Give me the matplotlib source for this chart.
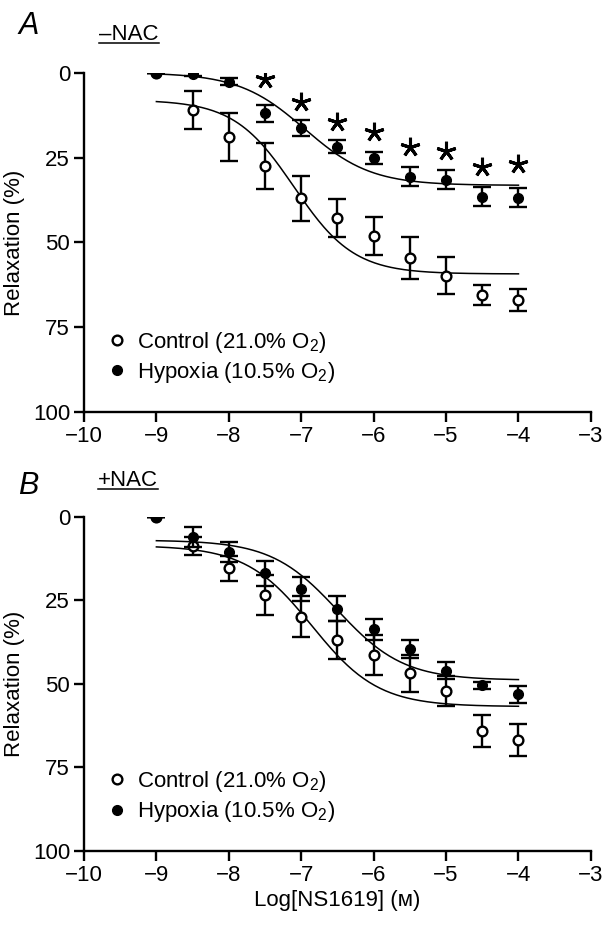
import numpy as np
import matplotlib
matplotlib.use("Agg")
import matplotlib.pyplot as plt
from matplotlib.lines import Line2D

plt.rcParams['font.family'] = ['Liberation Sans', 'DejaVu Sans']
plt.rcParams['mathtext.fontset'] = 'custom'
plt.rcParams['mathtext.rm'] = 'Liberation Sans'
plt.rcParams['mathtext.it'] = 'Liberation Sans:italic'

# log concentration of NS1619 (M)
log_conc = [-9, -8.5, -8, -7.5, -7, -6.5, -6, -5.5, -5, -4.5, -4]

# panel A (-NAC): relaxation (%) mean and SEM
ctrl_a = [0, 11, 19, 27.5, 37, 42.7, 48, 54.7, 59.8, 65.5, 67]
ctrl_a_err = [0, 5.5, 7, 6.7, 6.7, 5.6, 5.6, 6.2, 5.5, 3, 3.3]
hyp_a = [0, 0.3, 2.6, 12, 16.3, 21.8, 25.2, 30.6, 31.6, 36.5, 36.8]
hyp_a_err = [0, 0.8, 1, 2.5, 2.5, 2, 1.8, 2.8, 2.8, 2.8, 2.8]
star_x = [-7.5, -7, -6.5, -6, -5.5, -5, -4.5, -4]
star_y = [1.8, 8.5, 14.4, 17.6, 22, 23.2, 27.8, 27]

# panel B (+NAC)
ctrl_b = [0, 8.8, 15.4, 23.3, 29.9, 36.9, 41.4, 46.9, 52.2, 64.1, 66.8]
ctrl_b_err = [0, 2.8, 3.7, 6, 6.2, 5.7, 6, 5.5, 4.5, 4.8, 4.8]
hyp_b = [0, 6, 10.5, 16.9, 21.6, 27.5, 33.7, 39.5, 46.1, 50.4, 53.1]
hyp_b_err = [0, 3, 3, 3.7, 3.6, 3.8, 3.2, 2.7, 2.5, 1, 2.5]

# sigmoid fit parameters: bottom, top, logEC50, hill
fit_ctrl_a = (8.0, 59.3, -7.1, 1.05)
fit_hyp_a = (0.0, 33.2, -6.95, 0.95)
fit_ctrl_b = (8.6, 56.8, -6.85, 0.95)
fit_hyp_b = (7.0, 48.9, -6.5, 0.95)


def sigmoid(x, p):
    bottom, top, ec50, hill = p
    return bottom + (top - bottom) / (1 + 10 ** ((ec50 - x) * hill))


fig = plt.figure(figsize=(6.02, 9.26), dpi=100)
ax_a = fig.add_axes([0.1395, 0.555, 0.842, 0.3665])
ax_b = fig.add_axes([0.1395, 0.081, 0.842, 0.361])

xfit = np.linspace(-9, -4, 200)
panels = [
    (ax_a, ctrl_a, ctrl_a_err, hyp_a, hyp_a_err, fit_ctrl_a, fit_hyp_a),
    (ax_b, ctrl_b, ctrl_b_err, hyp_b, hyp_b_err, fit_ctrl_b, fit_hyp_b),
]
for ax, c, ce, h, he, fc, fh in panels:
    ax.plot(xfit, sigmoid(xfit, fc), color='black', lw=1.1, zorder=2)
    ax.plot(xfit, sigmoid(xfit, fh), color='black', lw=1.1, zorder=2)
    ax.errorbar(log_conc, c, yerr=ce, fmt='o', mfc='white', mec='black',
                mew=1.7, ms=8.5, ecolor='black', elinewidth=1.7, capsize=6.5,
                capthick=1.7, color='black', zorder=3,
                label='Control (21.0% O$_2$)')
    ax.errorbar(log_conc, h, yerr=he, fmt='o', mfc='black', mec='black',
                ms=8.5, ecolor='black', elinewidth=1.7, capsize=6.5,
                capthick=1.7, color='black', zorder=4,
                label='Hypoxia (10.5% O$_2$)')

    ax.set_xlim(-10, -3)
    ax.set_ylim(100, 0)
    ax.set_xticks(range(-10, -2))
    ax.set_yticks([0, 25, 50, 75, 100])
    ax.spines['top'].set_visible(False)
    ax.spines['right'].set_visible(False)
    for s in ('left', 'bottom'):
        ax.spines[s].set_linewidth(1.7)
    ax.tick_params(width=1.7, length=7, labelsize=16, pad=3)
    ax.set_ylabel('Relaxation (%)', fontsize=16, labelpad=6)
    handles, labels = ax.get_legend_handles_labels()
    handles = [hd[0] for hd in handles]
    for hd in handles:
        hd.set_markersize(7)
    ax.legend(handles, labels, loc='lower left', bbox_to_anchor=(0.025, 0.04),
              frameon=False, fontsize=16, handlelength=0.6, handletextpad=0.6,
              labelspacing=0.25, borderaxespad=0.2)

ax_a.plot(star_x, star_y, linestyle='none', marker=(5, 2, 0), ms=14,
          mew=2.2, color='black', zorder=5)

ax_b.set_xlabel('Log[NS1619] (ᴍ)', fontsize=16, labelpad=3)

fig.text(0.03, 0.963, 'A', fontsize=22, style='italic')
fig.text(0.03, 0.467, 'B', fontsize=22, style='italic')
t1 = fig.text(0.165, 0.957, '–NAC', fontsize=16)
t2 = fig.text(0.162, 0.475, '+NAC', fontsize=16)

fig.canvas.draw()
r = fig.canvas.get_renderer()
for t in (t1, t2):
    bb = t.get_window_extent(r).transformed(fig.transFigure.inverted())
    y = bb.y0 + 0.1 * bb.height
    fig.add_artist(Line2D([bb.x0, bb.x1], [y, y], transform=fig.transFigure,
                          color='black', lw=1.1))

fig.savefig('out.png', dpi=100)
